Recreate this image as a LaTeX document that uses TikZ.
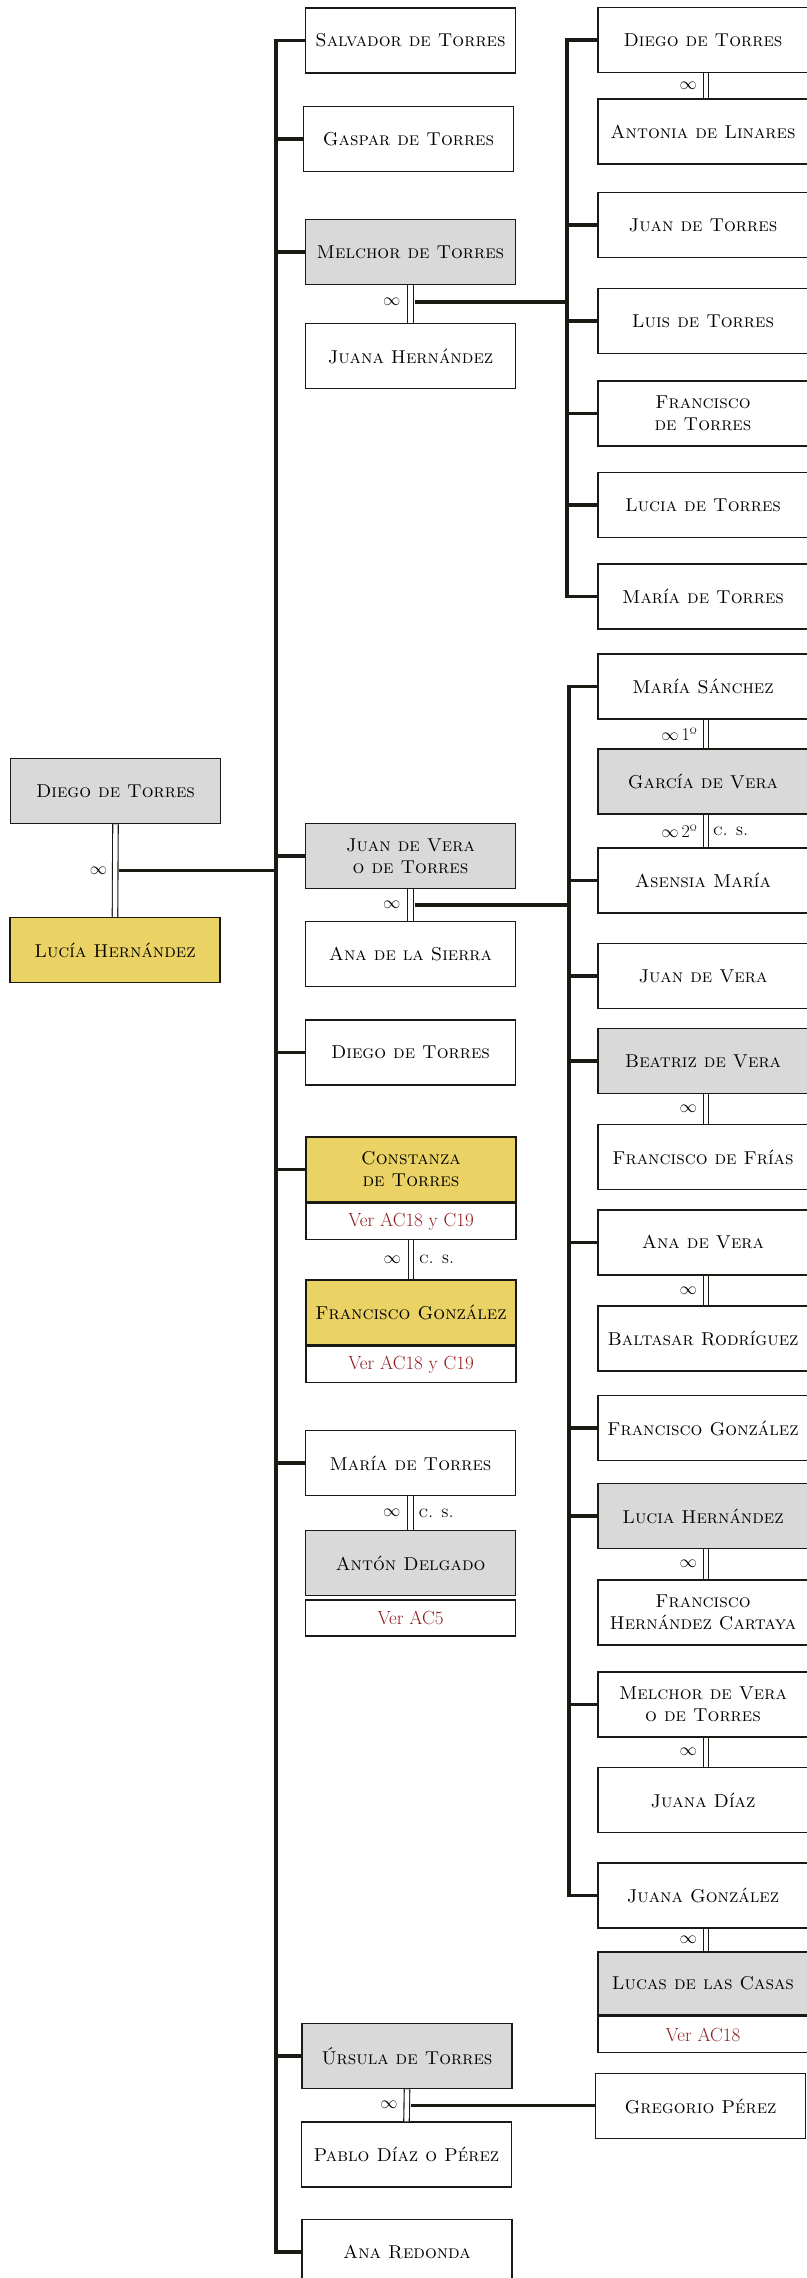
\documentclass[tikz,border=0pt]{standalone}
\usepackage{fontspec}
\usetikzlibrary{calc}
\definecolor{ink}{HTML}{1A1914}
\definecolor{greyfill}{HTML}{D9D9D9}
\definecolor{goldfill}{HTML}{EAD264}
\definecolor{refred}{HTML}{8E1B1E}
\newcommand\namefont{\fontsize{18.6}{22}\selectfont\scshape}
\newcommand\reffont{\fontsize{19}{21}\selectfont}
\newcommand\osn[1]{\oldstylenums{#1}}
\newcommand\wedsym{$\infty$}

\begin{document}
\begin{tikzpicture}[x=1pt,y=-1pt,
  person/.style={draw=ink, line width=1.5pt, fill=white, minimum width=210pt,
    minimum height=65pt, inner sep=2pt, align=center, font=\namefont, text=black},
  greyp/.style={person, fill=greyfill},
  goldp/.style={person, fill=goldfill},
  refbox/.style={draw=ink, line width=1.5pt, fill=white, minimum width=210pt,
    minimum height=36pt, inner sep=0pt, font=\reffont, text=refred, anchor=north},
  trunk/.style={draw=ink, line width=3.4pt},
  wed/.style={draw=ink, line width=1.1pt, double=white, double distance=4.4pt},
  wedmark/.style={inner sep=0pt, font=\fontsize{18}{18}\selectfont, text=black},
  cs/.style={inner sep=0pt, font=\fontsize{16}{16}\selectfont\scshape, text=black, anchor=west},
]
\fill[white] (0,0) rectangle (806,2278);
\useasboundingbox (0,0) rectangle (806,2278);

% spine positions
\coordinate (spineA) at (276,0);
\coordinate (spineB) at (567,0);
\coordinate (spineC) at (569,0);

% root couple
\node[greyp] (diegoRoot) at (115.5,791) {Diego de Torres};
\node[goldp] (lucia) at (115,950) {Lucía Hernández};

% children of the root couple
\node[person] (salvador) at (410.5,40.5) {Salvador de Torres};
\node[person] (gaspar) at (408.5,139) {Gaspar de Torres};
\node[greyp] (melchor) at (410.5,252) {Melchor de Torres};
\node[person] (juanaH) at (410.5,356) {Juana Hernández};
\node[greyp] (juanVera) at (410.5,856) {Juan de Vera\\o de Torres};
\node[person] (anaSierra) at (410.5,954) {Ana de la Sierra};
\node[person] (diego2) at (410.5,1052.5) {Diego de Torres};
\node[goldp] (constanza) at (411,1169.5) {Constanza\\de Torres};
\node[refbox] (constanzaRef) at (constanza.south) {Ver AC\osn{18} y C\osn{19}};
\node[goldp] (franGonzL) at (411,1312.5) {Francisco González};
\node[refbox] (franGonzLRef) at (franGonzL.south) {Ver AC\osn{18} y C\osn{19}};
\node[person] (mariaT) at (410.5,1463) {María de Torres};
\node[greyp] (anton) at (410.5,1563) {Antón Delgado};
\node[refbox] (antonRef) at ([yshift=-3pt]anton.south) {Ver AC\osn{5}};
\node[greyp] (ursula) at (407,2056) {Úrsula de Torres};
\node[person] (pablo) at (406.5,2154.5) {Pablo Díaz o Pérez};
\node[person] (anaRedonda) at (407,2252) {Ana Redonda};

% children of Melchor de Torres
\node[person] (diegoT) at (703,40) {Diego de Torres};
\node[person] (antonia) at (703,131.5) {Antonia de Linares};
\node[person] (juanT) at (703,225) {Juan de Torres};
\node[person] (luisT) at (703,321) {Luis de Torres};
\node[person] (franT) at (703,413.5) {Francisco\\de Torres};
\node[person] (luciaT) at (703,505) {Lucia de Torres};
\node[person] (mariaT2) at (703,596.5) {María de Torres};

% children of Juan de Vera
\node[person] (mariaS) at (703,686.5) {María Sánchez};
\node[greyp] (garcia) at (703,781.5) {García de Vera};
\node[person] (asensia) at (703,880.5) {Asensia María};
\node[person] (juanV) at (703,976) {Juan de Vera};
\node[greyp] (beatriz) at (703,1061) {Beatriz de Vera};
\node[person] (franFrias) at (703,1157) {Francisco de Frías};
\node[person] (anaV) at (703,1242.5) {Ana de Vera};
\node[person] (baltasar) at (703,1338.5) {Baltasar Rodríguez};
\node[person] (franGonzR) at (703,1428) {Francisco González};
\node[greyp] (luciaH) at (703,1516) {Lucia Hernández};
\node[person] (franHC) at (703,1612.5) {Francisco\\Hernández Cartaya};
\node[person] (melchorV) at (703,1704.5) {Melchor de Vera\\o de Torres};
\node[person] (juanaD) at (703,1800) {Juana Díaz};
\node[person] (juanaG) at (703,1895.5) {Juana González};
\node[greyp, minimum height=63pt] (lucas) at (703,1983.5) {Lucas de las Casas};
\node[refbox] (lucasRef) at (lucas.south) {Ver AC\osn{18}};

\node[person] (gregorio) at (700.5,2106) {Gregorio Pérez};

% main spine with its branches
\draw[trunk] (salvador.west) -| (spineA |- anaRedonda.west) -- (anaRedonda.west);
\foreach \n in {gaspar, melchor, juanVera, diego2, constanza, mariaT, ursula}
  \draw[trunk] (spineA |- \n.west) -- (\n.west);

% root marriage
\draw[wed] (diegoRoot.south) -- (lucia.north);
\coordinate (rootM) at ($(diegoRoot.south)!0.5!(lucia.north)$);
\draw[trunk] ([xshift=4pt]rootM) -- (spineA |- rootM);
\node[wedmark, anchor=east] at ([xshift=-8pt]rootM) {\wedsym};

% Melchor de Torres and Juana Hernández
\draw[wed] (melchor.south) -- (juanaH.north);
\coordinate (melM) at ($(melchor.south)!0.45!(juanaH.north)$);
\draw[trunk] ([xshift=4pt]melM) -- (spineB |- melM);
\node[wedmark, anchor=east] at ([xshift=-10pt]melM) {\wedsym};
\draw[trunk] (diegoT.west) -| (spineB |- mariaT2.west) -- (mariaT2.west);
\foreach \n in {juanT, luisT, franT, luciaT}
  \draw[trunk] (spineB |- \n.west) -- (\n.west);

% Juan de Vera and Ana de la Sierra
\draw[wed] (juanVera.south) -- (anaSierra.north);
\coordinate (jvM) at ($(juanVera.south)!0.5!(anaSierra.north)$);
\draw[trunk] ([xshift=4pt]jvM) -- (spineC |- jvM);
\node[wedmark, anchor=east] at ([xshift=-10pt]jvM) {\wedsym};
\draw[trunk] (mariaS.west) -| (spineC |- juanaG.west) -- (juanaG.west);
\foreach \n in {asensia, juanV, beatriz, anaV, franGonzR, luciaH, melchorV}
  \draw[trunk] (spineC |- \n.west) -- (\n.west);

% Constanza de Torres and Francisco González
\draw[wed] (constanzaRef.south) -- (constanzaRef.south |- franGonzL.north);
\coordinate (cfM) at ($(constanzaRef.south)!0.5!(constanzaRef.south |- franGonzL.north)$);
\node[wedmark, anchor=east] at ([xshift=-10pt]cfM) {\wedsym};
\node[cs] at ([xshift=8pt]cfM) {c. s.};

% María de Torres and Antón Delgado
\draw[wed] (mariaT.south) -- (anton.north);
\coordinate (maM) at ($(mariaT.south)!0.5!(anton.north)$);
\node[wedmark, anchor=east] at ([xshift=-10pt]maM) {\wedsym};
\node[cs] at ([xshift=8pt]maM) {c. s.};

% Úrsula de Torres, Pablo Díaz o Pérez and Gregorio Pérez
\draw[wed] (ursula.south) -- (pablo.north);
\coordinate (urM) at ($(ursula.south)!0.5!(pablo.north)$);
\draw[trunk] ([xshift=4pt]urM) -- (urM -| gregorio.west);
\node[wedmark, anchor=east] at ([xshift=-9pt]urM) {\wedsym};

% marriages in the right column
\foreach \a/\b in {diegoT/antonia, mariaS/garcia, garcia/asensia, beatriz/franFrias,
                   anaV/baltasar, luciaH/franHC, melchorV/juanaD, juanaG/lucas}
  \draw[wed] ([xshift=3pt]\a.south) -- ([xshift=3pt]\b.north);
\foreach \a/\b/\t in {diegoT/antonia/\wedsym, beatriz/franFrias/\wedsym, anaV/baltasar/\wedsym,
                      luciaH/franHC/\wedsym, melchorV/juanaD/\wedsym, juanaG/lucas/\wedsym,
                      mariaS/garcia/{\wedsym\,\osn{1}º}, garcia/asensia/{\wedsym\,\osn{2}º}}
  \node[wedmark, anchor=east] at ($([xshift=-6pt]\a.south)!0.5!([xshift=-6pt]\b.north)$) {\t};
\node[cs] at ($([xshift=10pt]garcia.south)!0.5!([xshift=10pt]asensia.north)$) {c. s.};
\end{tikzpicture}
\end{document}
